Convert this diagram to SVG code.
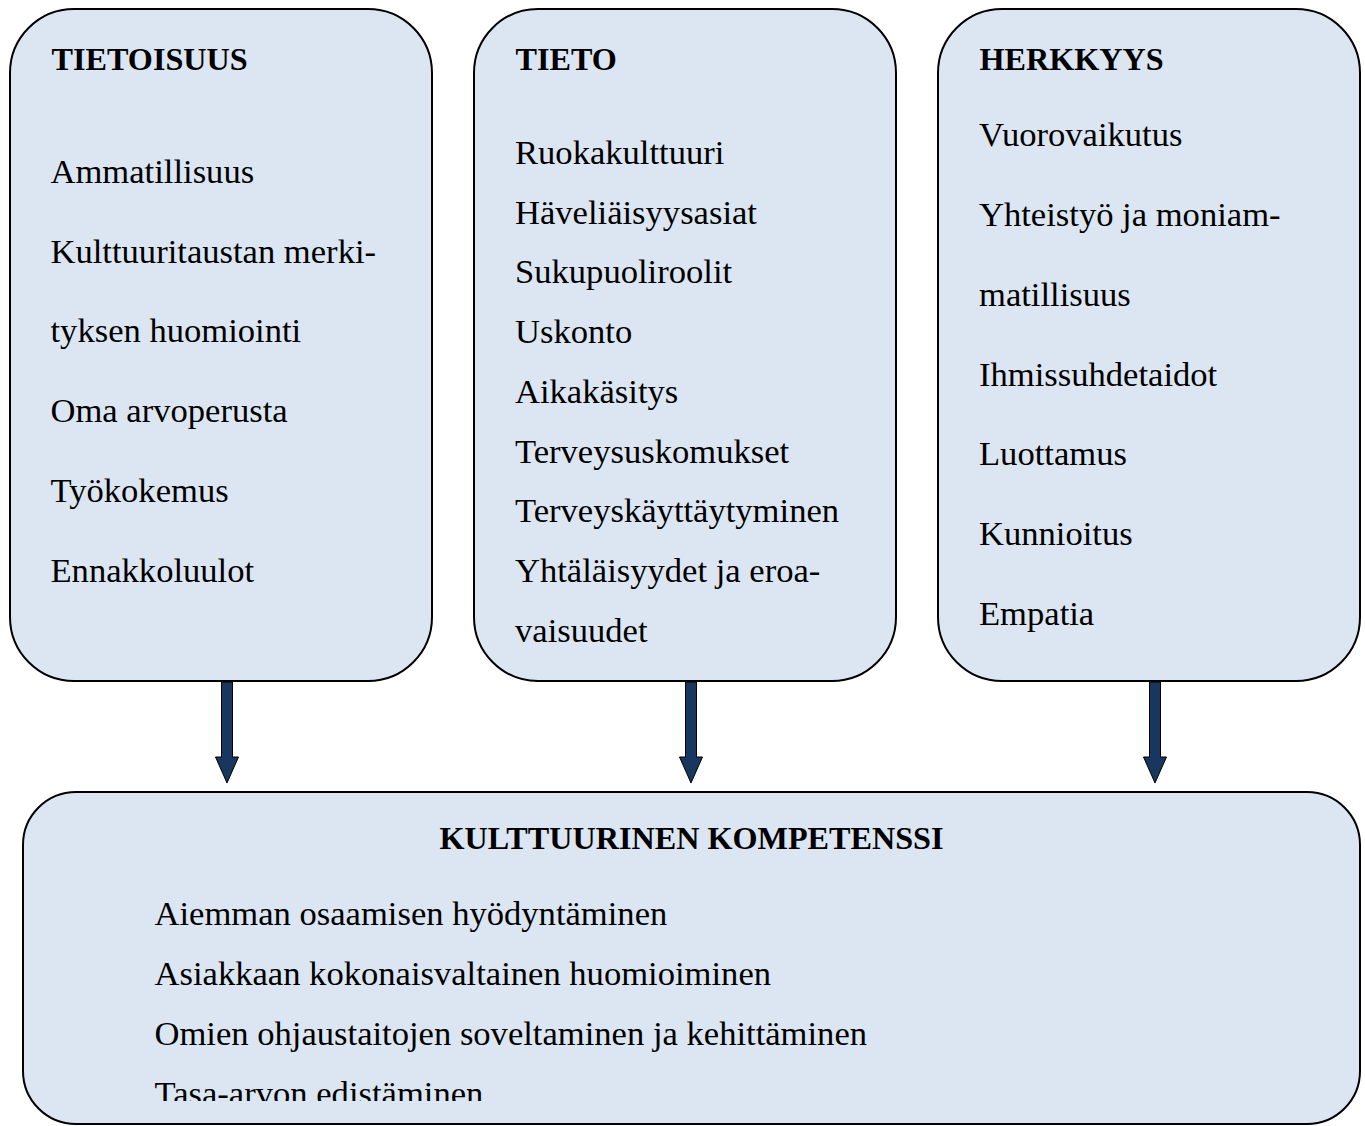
<svg xmlns="http://www.w3.org/2000/svg" width="1365" height="1126" viewBox="0 0 1365 1126">
<style>
.box{fill:#DCE6F2;stroke:#000;stroke-width:2}
.t{font-family:"Liberation Serif","Times New Roman",serif;font-size:34.6px;fill:#000}
.h{font-family:"Liberation Serif","Times New Roman",serif;font-size:32.2px;font-weight:bold;fill:#000}
.arr{fill:#17375E;stroke:#000;stroke-width:1}
</style>
<defs>
<clipPath id="clipBottom"><rect x="23" y="792" width="1337" height="309"/></clipPath>
</defs>
<rect width="1365" height="1126" fill="#fff"/>
<g id="connectors">
<path class="arr" d="M221.5,682 H232.5 V757 H238.5 L227,783 L215.5,757 H221.5 Z"/>
<path class="arr" d="M685.5,682 H696.5 V757 H702.5 L691,783 L679.5,757 H685.5 Z"/>
<path class="arr" d="M1149.5,682 H1160.5 V757 H1166.5 L1155,783 L1143.5,757 H1149.5 Z"/>
</g>
<g id="tietoisuus">
<rect class="box" x="10" y="9" width="422" height="672" rx="64" ry="64"/>
<text class="h" x="51.5" y="70">TIETOISUUS</text>
<text class="t" x="50.5" y="183">Ammatillisuus</text>
<text class="t" x="50.5" y="263">Kulttuuritaustan merki-</text>
<text class="t" x="50.5" y="342">tyksen huomiointi</text>
<text class="t" x="50.5" y="422">Oma arvoperusta</text>
<text class="t" x="50.5" y="502">Työkokemus</text>
<text class="t" x="50.5" y="582">Ennakkoluulot</text>
</g>
<g id="tieto">
<rect class="box" x="474" y="9" width="422" height="672" rx="64" ry="64"/>
<text class="h" x="515.5" y="70">TIETO</text>
<text class="t" x="515" y="164">Ruokakulttuuri</text>
<text class="t" x="515" y="224">Häveliäisyysasiat</text>
<text class="t" x="515" y="283">Sukupuoliroolit</text>
<text class="t" x="515" y="343">Uskonto</text>
<text class="t" x="515" y="403">Aikakäsitys</text>
<text class="t" x="515" y="463">Terveysuskomukset</text>
<text class="t" x="515" y="522">Terveyskäyttäytyminen</text>
<text class="t" x="515" y="582">Yhtäläisyydet ja eroa-</text>
<text class="t" x="515" y="642">vaisuudet</text>
</g>
<g id="herkkyys">
<rect class="box" x="938" y="9" width="422" height="672" rx="64" ry="64"/>
<text class="h" x="979.5" y="70">HERKKYYS</text>
<text class="t" x="979" y="146">Vuorovaikutus</text>
<text class="t" x="979" y="226">Yhteistyö ja moniam-</text>
<text class="t" x="979" y="306">matillisuus</text>
<text class="t" x="979" y="386">Ihmissuhdetaidot</text>
<text class="t" x="979" y="465">Luottamus</text>
<text class="t" x="979" y="545">Kunnioitus</text>
<text class="t" x="979" y="625">Empatia</text>
</g>
<g id="kulttuurinen-kompetenssi">
<rect class="box" x="23" y="792" width="1337" height="332" rx="53" ry="53"/>
<text class="h" x="691.5" y="849" text-anchor="middle">KULTTUURINEN KOMPETENSSI</text>
<text class="t" x="154.5" y="925">Aiemman osaamisen hyödyntäminen</text>
<text class="t" x="154.5" y="985">Asiakkaan kokonaisvaltainen huomioiminen</text>
<text class="t" x="154.5" y="1045">Omien ohjaustaitojen soveltaminen ja kehittäminen</text>
<text class="t" x="154.5" y="1105" clip-path="url(#clipBottom)">Tasa-arvon edistäminen</text>
</g>
</svg>
